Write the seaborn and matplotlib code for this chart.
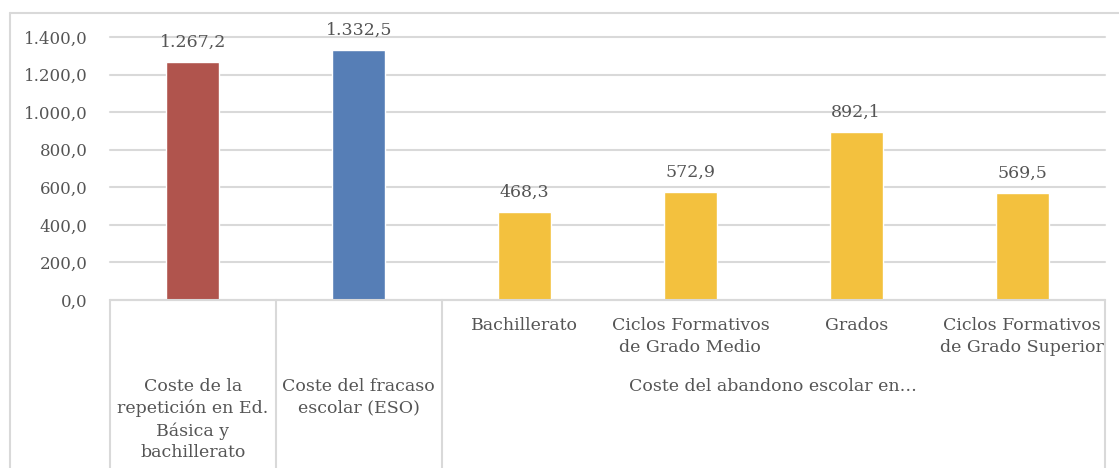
import matplotlib
matplotlib.use("Agg")
import matplotlib.pyplot as plt
import matplotlib.transforms as mtransforms
from matplotlib.ticker import FuncFormatter
import seaborn as sns
import pandas as pd

# data
categories = ["Coste de la\nrepetición en Ed.\nBásica y\nbachillerato",
              "Coste del fracaso\nescolar (ESO)",
              "Bachillerato",
              "Ciclos Formativos\nde Grado Medio",
              "Grados",
              "Ciclos Formativos\nde Grado Superior"]
values = [1267.2, 1332.5, 468.3, 572.9, 892.1, 569.5]
bar_colors = ["#B0544D", "#567EB6", "#F3C13E", "#F3C13E", "#F3C13E", "#F3C13E"]
group_label = "Coste del abandono escolar en…"
yticks = [0, 200, 400, 600, 800, 1000, 1200, 1400]

TEXT = "#555555"
GRID = "#D9D9D9"
FONT = "DejaVu Serif"
FS = 12.5


def fmt_es(v, decimals=1):
    s = f"{v:,.{decimals}f}"
    return s.replace(",", "X").replace(".", ",").replace("X", ".")


def main():
    sns.set_style("white")
    plt.rcParams["font.family"] = [FONT, "DejaVu Sans"]

    df = pd.DataFrame({"cat": categories, "value": values})

    W, H = 1119, 468
    fig = plt.figure(figsize=(W / 100, H / 100), dpi=100)
    left, right, top, bottom = 110, 1105, 37, 300
    ax = fig.add_axes([left / W, (H - bottom) / H, (right - left) / W, (bottom - top) / H])

    sns.barplot(data=df, x="cat", y="value", hue="cat", palette=bar_colors,
                width=0.32, legend=False, ax=ax, saturation=1)

    ax.set_ylim(0, 1400)
    ax.set_xlim(-0.5, len(categories) - 0.5)
    ax.set_yticks(yticks)
    ax.yaxis.set_major_formatter(FuncFormatter(lambda v, p: fmt_es(v)))
    ax.tick_params(axis="y", labelsize=FS - 0.5, labelcolor=TEXT, length=0, pad=16)
    ax.set_xticks([])
    ax.set_xlabel("")
    ax.set_ylabel("")
    for sp in ax.spines.values():
        sp.set_visible(False)
    ax.grid(axis="y", color=GRID, lw=1.5)
    ax.set_axisbelow(True)
    for gl in ax.get_ygridlines():
        gl.set_clip_on(False)
    for lab in ax.get_yticklabels():
        lab.set_family(FONT)

    # value labels
    for i, v in enumerate(values):
        ax.annotate(fmt_es(v), (i, v), xytext=(0, 8), textcoords="offset points",
                    ha="center", va="bottom", fontsize=FS, color=TEXT, family=FONT)

    # category table below the axis
    trans = mtransforms.blended_transform_factory(ax.transData, ax.transAxes)
    ax_h = bottom - top
    y_bot = -(H - bottom) / ax_h
    ax.plot([-0.5, len(categories) - 0.5], [0, 0], transform=trans, color=GRID,
            lw=1.5, clip_on=False)
    for xb in [-0.5, 0.5, 1.5, len(categories) - 0.5]:
        ax.plot([xb, xb], [0, y_bot], transform=trans, color=GRID, lw=1.5, clip_on=False)

    y_top_lvl = -(317 - bottom) / ax_h
    y_grp = -(378 - bottom) / ax_h
    for i, c in enumerate(categories):
        y = y_grp if i < 2 else y_top_lvl
        ax.text(i, y, c, transform=trans, ha="center", va="top",
                fontsize=FS, color=TEXT, family=FONT, linespacing=1.36)
    ax.text((1.5 + len(categories) - 0.5) / 2, y_grp, group_label, transform=trans,
            ha="center", va="top", fontsize=FS, color=TEXT, family=FONT)

    # outer chart frame
    fig.add_artist(plt.Line2D([10 / W, 1], [(H - 13) / H, (H - 13) / H],
                              transform=fig.transFigure, color=GRID, lw=1.5))
    fig.add_artist(plt.Line2D([10 / W, 10 / W], [0, (H - 13) / H],
                              transform=fig.transFigure, color=GRID, lw=1.5))

    fig.savefig("out.png", dpi=100)
    plt.close(fig)


if __name__ == "__main__":
    main()
